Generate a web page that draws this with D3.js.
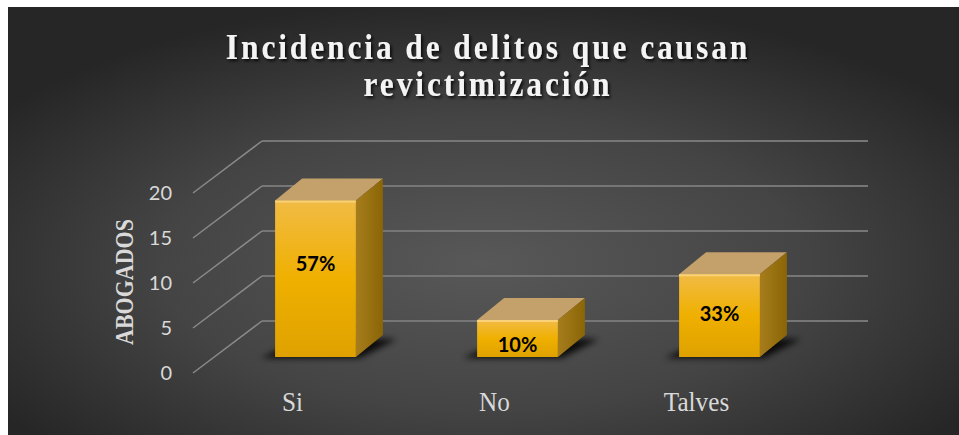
<!DOCTYPE html>
<html>
<head>
<meta charset="utf-8">
<script src="https://cdn.jsdelivr.net/npm/d3@7"></script>
<style>
  body { margin: 0; background: #fff; }
  svg { display: block; }
</style>
</head>
<body>
<div id="chart"></div>
<script>
// data
var categories = ["Si", "No", "Talves"];
var abogados = [17.4, 4.1, 9.2];
var percentLabels = ["57%", "10%", "33%"];
var yTicks = [0, 5, 10, 15, 20];
var titleLines = ["Incidencia de delitos que causan", "revictimización"];

var W = 959, H = 435;

var svg = d3.select("#chart")
    .append("svg")
    .attr("width", W)
    .attr("height", H);

var defs = svg.append("defs");

// background gradient
var bg = defs.append("radialGradient")
    .attr("id", "bgGrad")
    .attr("cx", 0.5).attr("cy", 0.6).attr("r", 0.62);
bg.append("stop").attr("offset", "0%").attr("stop-color", "#585858");
bg.append("stop").attr("offset", "55%").attr("stop-color", "#444");
bg.append("stop").attr("offset", "100%").attr("stop-color", "#262626");

// bar faces
var front = defs.append("linearGradient")
    .attr("id", "frontGrad").attr("x1", 0).attr("y1", 0).attr("x2", 0).attr("y2", 1);
front.append("stop").attr("offset", "0%").attr("stop-color", "#f1bb45");
front.append("stop").attr("offset", "50%").attr("stop-color", "#efb000");
front.append("stop").attr("offset", "100%").attr("stop-color", "#dfa100");

var side = defs.append("linearGradient")
    .attr("id", "sideGrad").attr("x1", 0).attr("y1", 0).attr("x2", 1).attr("y2", 0);
side.append("stop").attr("offset", "0%").attr("stop-color", "#a67d1c");
side.append("stop").attr("offset", "100%").attr("stop-color", "#8a6506");

defs.append("filter").attr("id", "blur")
    .attr("x", "-50%").attr("y", "-50%").attr("width", "200%").attr("height", "200%")
    .append("feGaussianBlur").attr("stdDeviation", 3);

var ts = defs.append("filter").attr("id", "titleShadow")
    .attr("x", "-10%").attr("y", "-30%").attr("width", "120%").attr("height", "160%");
ts.append("feDropShadow")
    .attr("dx", 2).attr("dy", 2).attr("stdDeviation", 1.5)
    .attr("flood-color", "#000").attr("flood-opacity", 0.8);

svg.append("rect")
    .attr("x", 8).attr("y", 7)
    .attr("width", W - 8).attr("height", H - 7)
    .attr("fill", "url(#bgGrad)");

// scales
var x = d3.scaleBand()
    .domain(categories)
    .range([214.5, 820.5])
    .paddingInner(0.6)
    .paddingOuter(0.3);

var yFront = d3.scaleLinear().domain([0, 20]).range([373, 193]);  // wall front edge
var yBack = d3.scaleLinear().domain([0, 20]).range([321, 141]);   // back wall
var yBar = d3.scaleLinear().domain([0, 20]).range([357, 177]);    // bar front face
var yLabel = d3.scaleLinear().domain([0, 20]).range([370, 248]);  // data labels

var wallX0 = 193, wallX1 = 262, backX1 = 868;
var dx = 27, dy = -22;

// gridlines: side wall diagonals + back wall
var grid = svg.append("g");
grid.selectAll(".diag")
    .data(yTicks)
    .enter().append("line")
    .attr("x1", wallX0).attr("y1", function (d) { return yFront(d); })
    .attr("x2", wallX1).attr("y2", function (d) { return yBack(d); })
    .attr("stroke", "#8a8a8a")
    .attr("stroke-width", 1.5);
grid.selectAll(".back")
    .data(yTicks)
    .enter().append("line")
    .attr("x1", wallX1).attr("y1", function (d) { return yBack(d); })
    .attr("x2", backX1).attr("y2", function (d) { return yBack(d); })
    .attr("stroke", "#767676")
    .attr("stroke-width", 2);

// tick labels
svg.append("g").selectAll("text")
    .data(yTicks)
    .enter().append("text")
    .attr("x", 172)
    .attr("y", function (d) { return yFront(d); })
    .attr("dy", "0.36em")
    .attr("text-anchor", "end")
    .attr("fill", "#d9d9d9")
    .style("font-family", "Lato, sans-serif")
    .style("font-size", "20px")
    .text(function (d) { return d; });

// axis title (the source text looks a bit condensed)
svg.append("text")
    .attr("transform", "translate(133,282) rotate(-90) scale(0.88,1)")
    .attr("text-anchor", "middle")
    .attr("fill", "#d9d9d9")
    .style("font-family", "'Liberation Serif', 'Times New Roman', serif")
    .style("font-weight", "bold")
    .style("font-size", "25px")
    .text("ABOGADOS");

// bars
var bw = x.bandwidth();
var bars = svg.append("g").selectAll("g")
    .data(categories)
    .enter().append("g");

bars.append("polygon")
    .attr("points", function (d) {
        var x0 = x(d), x1 = x(d) + bw, yb = yBar(0);
        return [[x0 - 14, yb + 1], [x1 + 4, yb + 1], [x1 + dx + 14, yb + dy + 4], [x0 + dx, yb + dy + 4]].join(" ");
    })
    .attr("fill", "#000")
    .attr("opacity", 0.85)
    .attr("filter", "url(#blur)");

// top face
bars.append("polygon")
    .attr("points", function (d, i) {
        var x0 = x(d), x1 = x(d) + bw, yt = yBar(abogados[i]);
        return [[x0, yt], [x1, yt], [x1 + dx, yt + dy], [x0 + dx, yt + dy]].join(" ");
    })
    .attr("fill", "#c4a06a");

// side face
bars.append("polygon")
    .attr("points", function (d, i) {
        var x1 = x(d) + bw, yt = yBar(abogados[i]), yb = yBar(0);
        return [[x1, yt], [x1 + dx, yt + dy], [x1 + dx, yb + dy], [x1, yb]].join(" ");
    })
    .attr("fill", "url(#sideGrad)");

// front face
bars.append("rect")
    .attr("x", function (d) { return x(d); })
    .attr("y", function (d, i) { return yBar(abogados[i]); })
    .attr("width", bw)
    .attr("height", function (d, i) { return yBar(0) - yBar(abogados[i]); })
    .attr("fill", "url(#frontGrad)");

// highlight along the top edge
bars.append("line")
    .attr("x1", function (d) { return x(d); })
    .attr("x2", function (d) { return x(d) + bw; })
    .attr("y1", function (d, i) { return yBar(abogados[i]) + 1; })
    .attr("y2", function (d, i) { return yBar(abogados[i]) + 1; })
    .attr("stroke", "#f9d27a")
    .attr("stroke-width", 2);

// data labels
bars.append("text")
    .attr("x", function (d) { return x(d) + bw / 2; })
    .attr("y", function (d, i) { return yLabel(abogados[i]); })
    .attr("dy", "0.36em")
    .attr("text-anchor", "middle")
    .attr("fill", "#000")
    .style("font-family", "Lato, sans-serif")
    .style("font-weight", "bold")
    .style("font-size", "20px")
    .text(function (d, i) { return percentLabels[i]; });

// category labels
svg.append("g").selectAll("text")
    .data(categories)
    .enter().append("text")
    .attr("transform", function (d) {
        return "translate(" + (x(d) + bw / 2 - 23) + ",411) scale(0.9,1)";
    })
    .attr("text-anchor", "middle")
    .attr("fill", "#d9d9d9")
    .style("font-family", "'Liberation Serif', 'Times New Roman', serif")
    .style("font-size", "28px")
    .text(function (d) { return d; });

// title
svg.append("g").selectAll("text")
    .data(titleLines)
    .enter().append("text")
    .attr("transform", function (d, i) {
        return "translate(488," + (59 + i * 37) + ") scale(0.9,1)";
    })
    .attr("text-anchor", "middle")
    .attr("fill", "#f4f4f4")
    .attr("filter", "url(#titleShadow)")
    .style("font-family", "'Liberation Serif', 'Times New Roman', serif")
    .style("font-weight", "bold")
    .style("font-size", "35px")
    .style("letter-spacing", "3.2px")
    .text(function (d) { return d; });
</script>
</body>
</html>
